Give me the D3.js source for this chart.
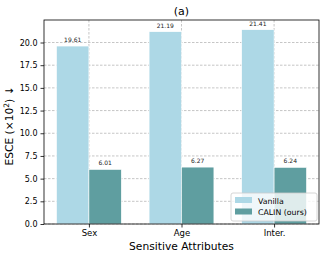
<!DOCTYPE html>
<html>
<head>
<meta charset="utf-8">
<script src="https://cdn.jsdelivr.net/npm/d3@7"></script>
<style>
  body { margin: 0; background: #fff; }
  svg { display: block; font-family: "DejaVu Sans", sans-serif; }
</style>
</head>
<body>
<div id="chart"></div>
<script>
// chart data
const categories = ['Sex', 'Age', 'Inter.'];
const seriesNames = ['Vanilla', 'CALIN (ours)'];
const vanillaValues = [19.61, 21.19, 21.41];
const calinValues = [6.01, 6.27, 6.24];
const yTicks = [0, 2.5, 5, 7.5, 10, 12.5, 15, 17.5, 20];
const colors = ['#add8e6', '#5f9ea0'];

const width = 324;
const height = 257;
const margin = { top: 20, right: 5, bottom: 33, left: 44 };
const barWidth = 0.35;

const svg = d3.select('#chart')
    .append('svg')
    .attr('width', width)
    .attr('height', height);

// x in category units, matplotlib style margins
const x = d3.scaleLinear()
    .domain([-barWidth - 0.135, categories.length - 1 + barWidth + 0.135])
    .range([margin.left, width - margin.right]);

const y = d3.scaleLinear()
    .domain([0, 21.41 * 1.05])
    .range([height - margin.bottom, margin.top]);

const plotTop = margin.top;
const plotBottom = height - margin.bottom;

// grid, behind the bars
const grid = svg.append('g');
grid.selectAll('.hgrid')
    .data(yTicks)
    .enter().append('line')
    .attr('x1', margin.left)
    .attr('x2', width - margin.right)
    .attr('y1', d => y(d))
    .attr('y2', d => y(d))
    .attr('stroke', '#b8b8b8')
    .attr('stroke-width', 0.8)
    .attr('stroke-dasharray', '2.5,1.5');
grid.selectAll('.vgrid')
    .data(categories)
    .enter().append('line')
    .attr('x1', (d, i) => x(i))
    .attr('x2', (d, i) => x(i))
    .attr('y1', plotTop)
    .attr('y2', plotBottom)
    .attr('stroke', '#b8b8b8')
    .attr('stroke-width', 0.8)
    .attr('stroke-dasharray', '2.5,1.5');

// bars
const series = [vanillaValues, calinValues];
series.forEach((vals, s) => {
    const offset = s === 0 ? -barWidth : 0;
    svg.append('g').selectAll('rect')
        .data(vals)
        .enter().append('rect')
        .attr('x', (d, i) => x(i + offset))
        .attr('width', x(barWidth) - x(0))
        .attr('y', d => y(d))
        .attr('height', d => y(0) - y(d))
        .attr('fill', colors[s])
        .attr('stroke', '#fff')
        .attr('stroke-width', 0.6);

    svg.append('g').selectAll('text')
        .data(vals)
        .enter().append('text')
        .attr('x', (d, i) => x(i + offset + barWidth / 2))
        .attr('y', d => y(d) - 4)
        .attr('text-anchor', 'middle')
        .attr('font-size', 6)
        .attr('fill', '#222')
        .text(d => d.toFixed(2));
});

// axes
const yAxis = d3.axisLeft(y)
    .tickValues(yTicks)
    .tickFormat(d3.format('.1f'))
    .tickSize(3.5)
    .tickPadding(3);
const gy = svg.append('g')
    .attr('transform', `translate(${margin.left},0)`)
    .call(yAxis);
gy.select('.domain').remove();
gy.selectAll('text').attr('font-size', 8).attr('fill', '#000')
    .attr('font-family', '"DejaVu Sans", sans-serif');
gy.selectAll('line').attr('stroke', '#000').attr('stroke-width', 0.8);

const xAxis = d3.axisBottom(x)
    .tickValues(d3.range(categories.length))
    .tickFormat(i => categories[i])
    .tickSize(3.5)
    .tickPadding(2);
const gx = svg.append('g')
    .attr('transform', `translate(0,${plotBottom})`)
    .call(xAxis);
gx.select('.domain').remove();
gx.selectAll('text').attr('font-size', 8.5).attr('fill', '#000')
    .attr('font-family', '"DejaVu Sans", sans-serif');
gx.selectAll('line').attr('stroke', '#000').attr('stroke-width', 0.8);

// frame
svg.append('rect')
    .attr('x', margin.left)
    .attr('y', plotTop)
    .attr('width', width - margin.right - margin.left)
    .attr('height', plotBottom - plotTop)
    .attr('fill', 'none')
    .attr('stroke', '#000')
    .attr('stroke-width', 0.8);

// title and labels
svg.append('text')
    .attr('x', (margin.left + width - margin.right) / 2)
    .attr('y', 15)
    .attr('text-anchor', 'middle')
    .attr('font-size', 11)
    .text('(a)');

svg.append('text')
    .attr('x', (margin.left + width - margin.right) / 2)
    .attr('y', 250)
    .attr('text-anchor', 'middle')
    .attr('font-size', 10.7)
    .text('Sensitive Attributes');

const ylab = svg.append('text')
    .attr('transform', `translate(13,${(plotTop + plotBottom) / 2 + 4}) rotate(-90)`)
    .attr('text-anchor', 'middle')
    .attr('font-size', 10.7);
ylab.append('tspan').text('ESCE (×10');
ylab.append('tspan').attr('font-size', 7.5).attr('dy', -4).text('2');
ylab.append('tspan').attr('dy', 4).text(')  ↓');

// legend, lower right
const legend = svg.append('g').attr('transform', 'translate(231,193)');
legend.append('rect')
    .attr('width', 86)
    .attr('height', 28)
    .attr('rx', 2)
    .attr('fill', '#fff')
    .attr('fill-opacity', 0.8)
    .attr('stroke', '#ccc')
    .attr('stroke-width', 0.8);
seriesNames.forEach((name, i) => {
    legend.append('rect')
        .attr('x', 4)
        .attr('y', 4 + i * 11.5)
        .attr('width', 17)
        .attr('height', 6)
        .attr('fill', colors[i]);
    legend.append('text')
        .attr('x', 27)
        .attr('y', 10.5 + i * 11.5)
        .attr('font-size', 7.8)
        .text(name);
});
</script>
</body>
</html>
